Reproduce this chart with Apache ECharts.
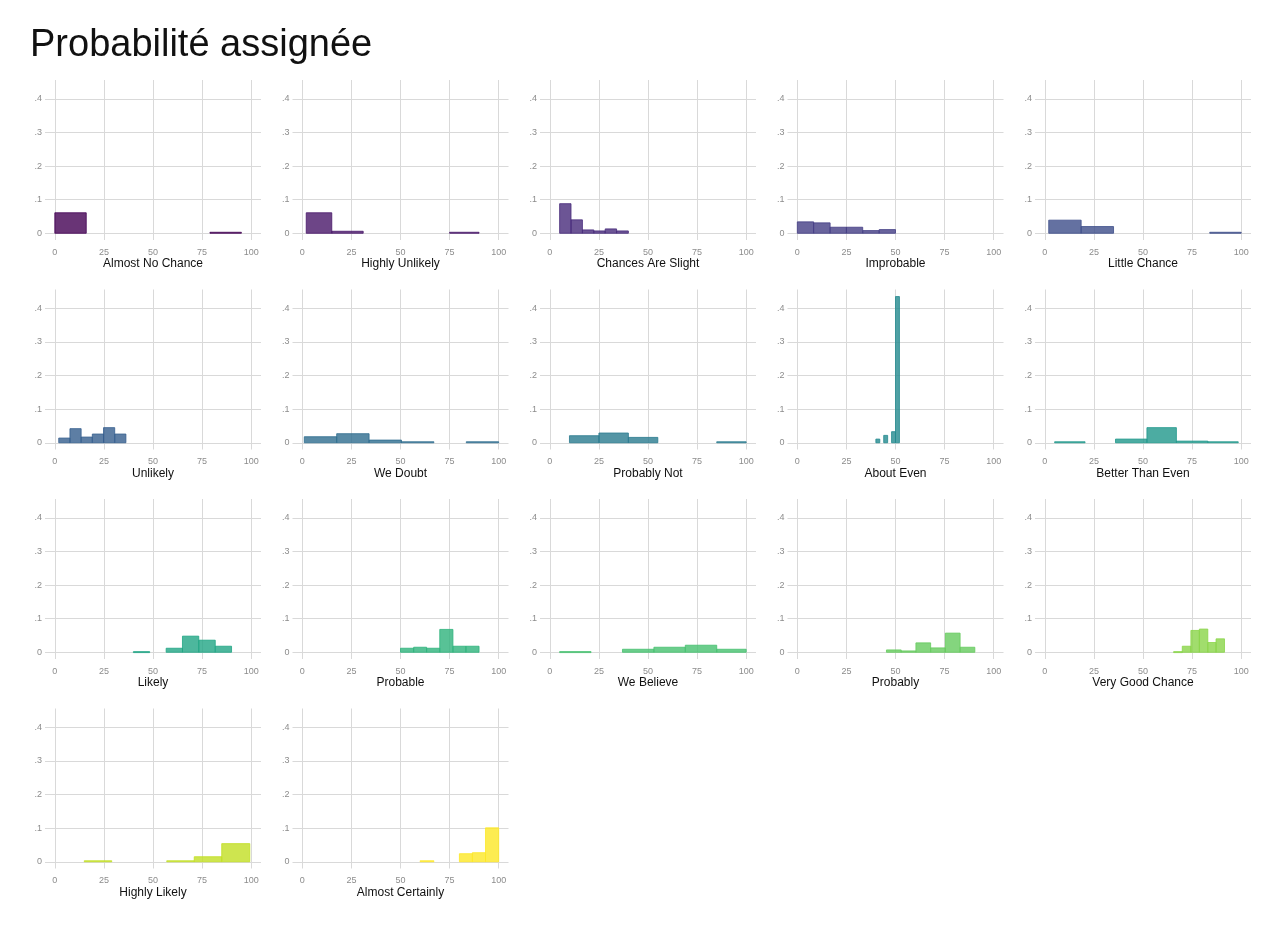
<!DOCTYPE html>
<html>
<head>
<meta charset="utf-8">
<script src="https://cdn.jsdelivr.net/npm/echarts@6/dist/echarts.min.js"></script>
<style>
  html, body { margin: 0; padding: 0; background: #fff; }
  #chart { width: 1277px; height: 929px; }
</style>
</head>
<body>
<div id="chart"></div>
<script>
// panel names, in facet order
const phrases = ['Almost No Chance', 'Highly Unlikely', 'Chances Are Slight', 'Improbable', 'Little Chance',
  'Unlikely', 'We Doubt', 'Probably Not', 'About Even', 'Better Than Even',
  'Likely', 'Probable', 'We Believe', 'Probably', 'Very Good Chance',
  'Highly Likely', 'Almost Certainly']

// histogram bins per phrase: [from, to, density]
const almostNoChance = [[0, 16, 0.061], [79, 95, 0.003]]
const highlyUnlikely = [[2, 15, 0.061], [15, 31, 0.006], [75, 90, 0.003]]
const chancesAreSlight = [[5, 10.8, 0.088], [10.8, 16.6, 0.04], [16.6, 22.4, 0.01], [22.4, 28.2, 0.007], [28.2, 34, 0.013], [34, 40, 0.007]]
const improbable = [[0, 8.3, 0.034], [8.3, 16.7, 0.031], [16.7, 25, 0.018], [25, 33.3, 0.018], [33.3, 41.7, 0.008], [41.7, 50, 0.011]]
const littleChance = [[2, 18.5, 0.039], [18.5, 35, 0.02], [84, 100, 0.003]]
const unlikely = [[2, 7.7, 0.014], [7.7, 13.4, 0.042], [13.4, 19.1, 0.017], [19.1, 24.8, 0.026], [24.8, 30.5, 0.045], [30.5, 36.2, 0.026]]
const weDoubt = [[1, 17.5, 0.018], [17.5, 34, 0.027], [34, 50.5, 0.008], [50.5, 67, 0.003], [83.5, 100, 0.003]]
const probablyNot = [[10, 25, 0.021], [25, 40, 0.029], [40, 55, 0.016], [85, 100, 0.003]]
const aboutEven = [[40, 42, 0.011], [44, 46, 0.022], [48, 50, 0.033], [50, 52, 0.435]]
const betterThanEven = [[5, 20.5, 0.003], [36, 52, 0.011], [52, 67, 0.045], [67, 83, 0.005], [83, 98.5, 0.003]]
const likely = [[40, 48.3, 0.002], [56.7, 65, 0.012], [65, 73.3, 0.048], [73.3, 81.7, 0.036], [81.7, 90, 0.018]]
const probable = [[50, 56.7, 0.012], [56.7, 63.3, 0.015], [63.3, 70, 0.012], [70, 76.7, 0.068], [76.7, 83.3, 0.018], [83.3, 90, 0.018]]
const weBelieve = [[5, 21, 0.002], [37, 53, 0.009], [53, 69, 0.015], [69, 85, 0.021], [85, 100, 0.009]]
const probably = [[45.4, 52.9, 0.007], [52.9, 60.4, 0.004], [60.4, 67.9, 0.028], [67.9, 75.4, 0.013], [75.4, 82.9, 0.057], [82.9, 90.4, 0.015]]
const veryGoodChance = [[65.6, 70, 0.002], [70, 74.4, 0.018], [74.4, 78.7, 0.065], [78.7, 83, 0.069], [83, 87.2, 0.029], [87.2, 91.5, 0.04]]
const highlyLikely = [[15, 29, 0.003], [57, 71, 0.003], [71, 85, 0.015], [85, 99.3, 0.054]]
const almostCertainly = [[60, 67, 0.003], [80, 86.6, 0.024], [86.6, 93.3, 0.027], [93.3, 100, 0.101]]

const bins = [almostNoChance, highlyUnlikely, chancesAreSlight, improbable, littleChance,
  unlikely, weDoubt, probablyNot, aboutEven, betterThanEven,
  likely, probable, weBelieve, probably, veryGoodChance,
  highlyLikely, almostCertainly]

const xTicks = [0, 25, 50, 75, 100]
const yTicks = [0, 0.1, 0.2, 0.3, 0.4]

const colors = ['#440154', '#481769', '#472A7A', '#433D84', '#3D4E8A', '#355E8D', '#2E6D8E', '#297B8E',
  '#23898E', '#1F978B', '#21A585', '#2EB37C', '#46C06F', '#65CB5E', '#89D548', '#C2DF23', '#FDE725']

const grids = [], xAxes = [], yAxes = [], series = []
const gridLine = { show: true, lineStyle: { color: '#d9d9d9', width: 1 } }

phrases.forEach((name, i) => {
  const col = i % 5, row = Math.floor(i / 5)
  grids.push({ left: 45 + col * 247.5, top: 80 + row * 209.5, width: 216, height: 160 })
  xAxes.push({
    type: 'value', gridIndex: i, min: -5, max: 105,
    name: name, nameLocation: 'middle', nameGap: 18,
    nameTextStyle: { color: '#111', fontSize: 12, fontFamily: 'Liberation Sans' },
    axisLine: { show: false },
    axisTick: { show: false, customValues: xTicks },
    axisLabel: { customValues: xTicks, color: '#8c8c8c', fontSize: 9, margin: 8, fontFamily: 'Liberation Sans' },
    splitLine: gridLine
  })
  yAxes.push({
    type: 'value', gridIndex: i, min: -0.02, max: 0.456,
    axisLine: { show: false },
    axisTick: { show: false, customValues: yTicks },
    axisLabel: {
      customValues: yTicks, color: '#8c8c8c', fontSize: 9, margin: 3, fontFamily: 'Liberation Sans',
      formatter: v => v === 0 ? '0' : '.' + Math.round(v * 10)
    },
    splitLine: gridLine
  })
  series.push({
    type: 'custom', xAxisIndex: i, yAxisIndex: i,
    data: bins[i],
    encode: { x: [0, 1], y: 2 },
    renderItem: (params, api) => {
      const p0 = api.coord([api.value(0), 0])
      const p1 = api.coord([api.value(1), api.value(2)])
      return {
        type: 'rect',
        shape: { x: p0[0], y: p1[1], width: p1[0] - p0[0], height: Math.max(p0[1] - p1[1], 1) },
        style: { fill: colors[i], opacity: 0.8, stroke: colors[i], lineWidth: 1 }
      }
    }
  })
})

const chart = echarts.init(document.getElementById('chart'))
chart.setOption({
  animation: false,
  title: {
    text: 'Probabilité assignée', left: 25, top: 22,
    textStyle: { fontSize: 38, fontWeight: 'normal', color: '#111', fontFamily: 'Liberation Sans' }
  },
  grid: grids, xAxis: xAxes, yAxis: yAxes, series: series
})
</script>
</body>
</html>
